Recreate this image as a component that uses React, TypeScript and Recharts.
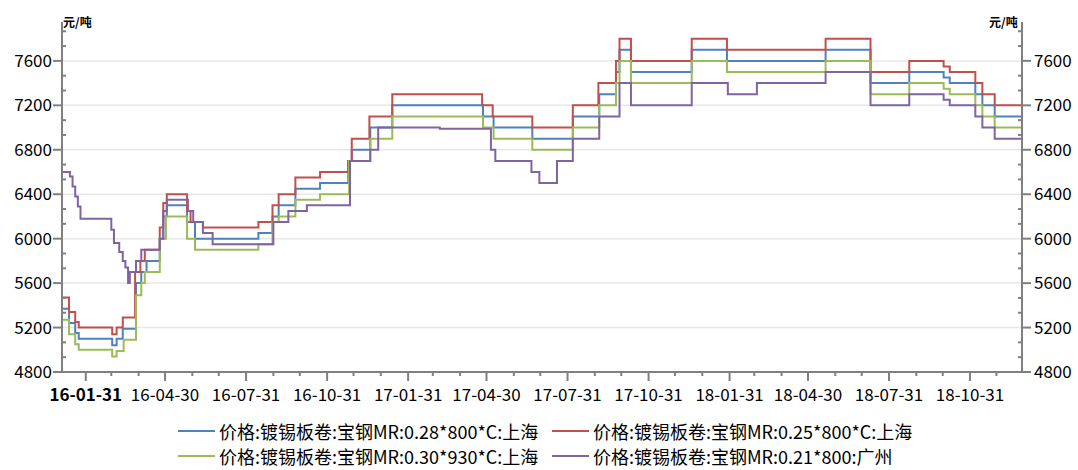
import React from "react";
import { LineChart, Line, XAxis, YAxis, CartesianGrid } from "recharts";

// change points (date, price), drawn as steps
const blue: [string, number][] = [
  ["2016-01-04", 5370], ["2016-01-12", 5240], ["2016-01-19", 5150], ["2016-01-23", 5100],
  ["2016-03-01", 5040], ["2016-03-06", 5100], ["2016-03-13", 5190], ["2016-03-28", 5600],
  ["2016-04-03", 5700], ["2016-04-09", 5800], ["2016-04-24", 6000], ["2016-04-28", 6200],
  ["2016-05-02", 6300], ["2016-05-25", 6150], ["2016-06-03", 6000], ["2016-08-14", 6050],
  ["2016-08-30", 6200], ["2016-09-06", 6300], ["2016-09-25", 6450], ["2016-10-23", 6500],
  ["2016-11-24", 6700], ["2016-11-28", 6800], ["2016-12-19", 7000], ["2017-01-13", 7200],
  ["2017-04-26", 7100], ["2017-05-08", 7000], ["2017-06-21", 6900], ["2017-08-06", 7100],
  ["2017-09-05", 7300], ["2017-09-24", 7500], ["2017-09-28", 7700], ["2017-10-11", 7500],
  ["2017-12-19", 7700], ["2018-01-28", 7600], ["2018-05-20", 7700], ["2018-07-10", 7400],
  ["2018-08-23", 7500], ["2018-10-01", 7450], ["2018-10-08", 7400], ["2018-11-06", 7300],
  ["2018-11-14", 7200], ["2018-11-28", 7100], ["2018-12-29", 7100],
];

const red: [string, number][] = [
  ["2016-01-04", 5470], ["2016-01-12", 5340], ["2016-01-19", 5250], ["2016-01-23", 5200],
  ["2016-03-01", 5140], ["2016-03-06", 5200], ["2016-03-13", 5290], ["2016-03-27", 5700],
  ["2016-04-02", 5800], ["2016-04-07", 5900], ["2016-04-24", 6100], ["2016-04-28", 6320],
  ["2016-05-02", 6400], ["2016-05-25", 6250], ["2016-05-29", 6150], ["2016-06-12", 6100],
  ["2016-08-14", 6150], ["2016-08-30", 6300], ["2016-09-06", 6400], ["2016-09-25", 6550],
  ["2016-10-23", 6600], ["2016-11-24", 6700], ["2016-11-28", 6900], ["2016-12-18", 7100],
  ["2017-01-13", 7300], ["2017-04-25", 7200], ["2017-05-07", 7100], ["2017-06-21", 7000],
  ["2017-08-06", 7200], ["2017-09-04", 7400], ["2017-09-24", 7600], ["2017-09-28", 7800],
  ["2017-10-11", 7600], ["2017-12-19", 7800], ["2018-01-28", 7700], ["2018-05-20", 7800],
  ["2018-07-10", 7500], ["2018-08-23", 7600], ["2018-10-01", 7550], ["2018-10-08", 7500],
  ["2018-11-06", 7400], ["2018-11-14", 7300], ["2018-11-28", 7200], ["2018-12-29", 7200],
];

const green: [string, number][] = [
  ["2016-01-04", 5270], ["2016-01-12", 5140], ["2016-01-19", 5050], ["2016-01-23", 5000],
  ["2016-03-01", 4940], ["2016-03-06", 4990], ["2016-03-14", 5090], ["2016-03-28", 5490],
  ["2016-04-03", 5600], ["2016-04-07", 5700], ["2016-04-24", 6000], ["2016-05-01", 6200],
  ["2016-05-25", 6000], ["2016-06-03", 5900], ["2016-08-14", 5950], ["2016-08-30", 6150],
  ["2016-09-06", 6200], ["2016-09-25", 6350], ["2016-10-23", 6400], ["2016-11-25", 6700],
  ["2016-12-19", 6900], ["2017-01-13", 7100], ["2017-04-26", 7000], ["2017-05-08", 6900],
  ["2017-06-21", 6800], ["2017-08-06", 7000], ["2017-09-05", 7200], ["2017-09-24", 7400],
  ["2017-09-28", 7600], ["2017-10-11", 7400], ["2017-12-19", 7600], ["2018-01-28", 7500],
  ["2018-05-20", 7600], ["2018-07-10", 7300], ["2018-08-23", 7400], ["2018-10-01", 7350],
  ["2018-10-08", 7300], ["2018-11-06", 7200], ["2018-11-14", 7100], ["2018-11-28", 7000],
  ["2018-12-29", 7000],
];

const purple: [string, number][] = [
  ["2016-01-04", 6600], ["2016-01-13", 6560], ["2016-01-16", 6470], ["2016-01-19", 6380],
  ["2016-01-22", 6290], ["2016-01-25", 6180], ["2016-02-29", 6080], ["2016-03-03", 5960],
  ["2016-03-09", 5880], ["2016-03-13", 5800], ["2016-03-16", 5740], ["2016-03-19", 5600],
  ["2016-03-21", 5700], ["2016-03-28", 5800], ["2016-04-03", 5900], ["2016-04-24", 6000],
  ["2016-04-28", 6250], ["2016-05-02", 6350], ["2016-05-26", 6250], ["2016-06-01", 6150],
  ["2016-06-12", 6050], ["2016-06-23", 5950], ["2016-08-31", 6150], ["2016-09-17", 6250],
  ["2016-10-08", 6300], ["2016-11-26", 6700], ["2016-12-19", 6800], ["2016-12-28", 7000],
  ["2017-03-08", 6990], ["2017-05-05", 6800], ["2017-05-10", 6700], ["2017-06-20", 6600],
  ["2017-06-29", 6500], ["2017-07-19", 6700], ["2017-08-06", 6900], ["2017-09-05", 7100],
  ["2017-09-28", 7400], ["2017-10-11", 7200], ["2017-12-19", 7400], ["2018-01-29", 7300],
  ["2018-03-03", 7400], ["2018-05-20", 7500], ["2018-07-10", 7200], ["2018-08-23", 7300],
  ["2018-10-01", 7250], ["2018-10-08", 7200], ["2018-11-06", 7100], ["2018-11-14", 7000],
  ["2018-11-28", 6900], ["2018-12-29", 6900],
];

const seriesNames = [
  "价格:镀锡板卷:宝钢MR:0.28*800*C:上海",
  "价格:镀锡板卷:宝钢MR:0.25*800*C:上海",
  "价格:镀锡板卷:宝钢MR:0.30*930*C:上海",
  "价格:镀锡板卷:宝钢MR:0.21*800:广州",
];

const xLabels = [
  "2016-01-31", "2016-04-30", "2016-07-31", "2016-10-31",
  "2017-01-31", "2017-04-30", "2017-07-31", "2017-10-31",
  "2018-01-31", "2018-04-30", "2018-07-31", "2018-10-31",
];

const yLabels = [4800, 5200, 5600, 6000, 6400, 6800, 7200, 7600];
const yDomain = [4800, 7950];
const xStart = "2016-01-04";
const xEnd = "2018-12-29";

const colors = ["#4f81bd", "#c0504d", "#9bbb59", "#8064a2"];
const axisColor = "#808080";
const font = "'Noto Sans CJK SC', 'Noto Sans', sans-serif";

const toT = (s: string) => Date.parse(s);
const toPoints = (rows: [string, number][]) => rows.map(([d, v]) => ({ t: toT(d), v }));

// monthly ticks on x, thirds of 400 on y
const xTicks: number[] = [];
for (let y = 2016; y <= 2018; y++) {
  for (let m = 0; m < 12; m++) {
    const t = Date.UTC(y, m + 1, 0);
    if (t >= toT(xStart) && t <= toT(xEnd)) xTicks.push(t);
  }
}
const xLabelSet = new Set(xLabels.map(toT));
const yTicks: number[] = [];
for (let v = yDomain[0]; v < yDomain[1]; v += 400 / 3) yTicks.push(Math.round(v * 100) / 100);
const isMajorY = (v: number) => yLabels.some((l) => Math.abs(l - v) < 1);

const XTick = (props: any) => {
  const { x, y, payload } = props;
  const major = xLabelSet.has(payload.value);
  const label = new Date(payload.value).toISOString().slice(2, 10);
  const first = payload.value === toT(xLabels[0]);
  return (
    <g>
      <line x1={x} y1={y} x2={x} y2={y + (major ? 9 : 4)} stroke={axisColor} strokeWidth={2} />
      {major && (
        <text x={x} y={y + 29} textAnchor="middle" fontSize={17} fontFamily={font}
          fill="#000" fontWeight={first ? 700 : 400}>
          {label}
        </text>
      )}
    </g>
  );
};

const LeftTick = (props: any) => {
  const { x, y, payload } = props;
  if (!isMajorY(payload.value))
    return <line x1={x} y1={y} x2={x + 4} y2={y} stroke={axisColor} strokeWidth={2} />;
  return (
    <g>
      <line x1={x - 9} y1={y} x2={x} y2={y} stroke={axisColor} strokeWidth={2} />
      <text x={x - 10} y={y + 6} textAnchor="end" fontSize={17} fontFamily={font} fill="#000">
        {payload.value}
      </text>
    </g>
  );
};

const RightTick = (props: any) => {
  const { x, y, payload } = props;
  if (!isMajorY(payload.value))
    return <line x1={x - 4} y1={y} x2={x} y2={y} stroke={axisColor} strokeWidth={2} />;
  return (
    <g>
      <line x1={x} y1={y} x2={x + 9} y2={y} stroke={axisColor} strokeWidth={2} />
      <text x={x + 12} y={y + 6} textAnchor="start" fontSize={17} fontFamily={font} fill="#000">
        {payload.value}
      </text>
    </g>
  );
};

const legendPos = [
  { left: 178, top: 431 },
  { left: 552, top: 431 },
  { left: 178, top: 456 },
  { left: 552, top: 456 },
];

export default function App() {
  const series = [blue, red, green, purple];
  return (
    <div style={{ position: "absolute", left: 0, top: 0, width: 1078, height: 470, background: "#fff", fontFamily: font, overflow: "hidden" }}>
      <LineChart width={1078} height={470} margin={{ top: 22, right: 0, bottom: 0, left: 0 }}>
        <CartesianGrid yAxisId="left" vertical={false} horizontalValues={yLabels} stroke="#e8e8e8" strokeWidth={1.5} />
        <XAxis
          dataKey="t"
          type="number"
          domain={[toT(xStart), toT(xEnd)]}
          allowDataOverflow
          ticks={xTicks}
          interval={0}
          height={98}
          tickSize={0}
          tickMargin={0}
          tick={XTick}
          axisLine={{ stroke: axisColor, strokeWidth: 2 }}
        />
        <YAxis
          yAxisId="left"
          orientation="left"
          width={62}
          domain={yDomain}
          allowDataOverflow
          ticks={yTicks}
          interval={0}
          tickSize={0}
          tickMargin={0}
          tick={LeftTick}
          axisLine={{ stroke: axisColor, strokeWidth: 2 }}
        />
        <YAxis
          yAxisId="right"
          orientation="right"
          width={56}
          domain={yDomain}
          allowDataOverflow
          ticks={yTicks}
          interval={0}
          tickSize={0}
          tickMargin={0}
          tick={RightTick}
          axisLine={{ stroke: axisColor, strokeWidth: 2 }}
        />
        {series.map((s, i) => (
          <Line
            key={seriesNames[i]}
            yAxisId="left"
            data={toPoints(s)}
            dataKey="v"
            name={seriesNames[i]}
            type="stepAfter"
            stroke={colors[i]}
            strokeWidth={2}
            dot={false}
            activeDot={false}
            isAnimationActive={false}
          />
        ))}
      </LineChart>

      <span style={{ position: "absolute", left: 63, top: 13, fontSize: 12, fontWeight: 700 }}>元/吨</span>
      <span style={{ position: "absolute", left: 989, top: 13, fontSize: 12, fontWeight: 700 }}>元/吨</span>

      {seriesNames.map((n, i) => (
        <div key={n} style={{ position: "absolute", left: legendPos[i].left, top: legendPos[i].top - 10, height: 20, display: "flex", alignItems: "center", whiteSpace: "nowrap" }}>
          <div style={{ width: 37, height: 2, background: colors[i], marginRight: 4 }} />
          <span style={{ fontSize: 18, lineHeight: "20px", color: "#000" }}>{n}</span>
        </div>
      ))}
    </div>
  );
}
